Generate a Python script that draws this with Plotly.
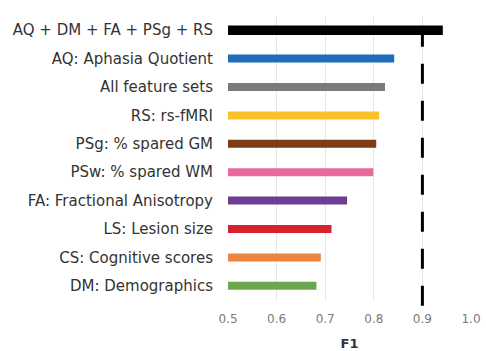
import plotly.graph_objects as go

# Feature sets, top to bottom, with their F1 scores
feature_sets = [
    "AQ + DM + FA + PSg + RS",
    "AQ: Aphasia Quotient",
    "All feature sets",
    "RS: rs-fMRI",
    "PSg: % spared GM",
    "PSw: % spared WM",
    "FA: Fractional Anisotropy",
    "LS: Lesion size",
    "CS: Cognitive scores",
    "DM: Demographics",
]
f1_scores = [0.942, 0.842, 0.823, 0.811, 0.805, 0.799, 0.745, 0.713, 0.691, 0.682]
bar_colors = [
    "#000000", "#1f6cb8", "#7a7a7a", "#fbc02d", "#7e3b14",
    "#e8689b", "#6b3d94", "#d9202e", "#ec8540", "#6aa84f",
]
bar_widths = [0.33, 0.28, 0.28, 0.28, 0.28, 0.28, 0.28, 0.28, 0.28, 0.28]

reference_f1 = 0.9
axis_ticks = [0.5, 0.6, 0.7, 0.8, 0.9, 1.0]
axis_tick_text = ["0.5", "0.6", "0.7", "0.8", "0.9", "1.0"]
x_range = [0.5, 1.0]

fig = go.Figure(
    go.Bar(
        x=[v - x_range[0] for v in f1_scores],
        base=x_range[0],
        y=feature_sets,
        orientation="h",
        marker=dict(color=bar_colors, line=dict(width=0)),
        width=bar_widths,
        hoverinfo="x+y",
    )
)

# Dashed reference line at F1 = 0.9
fig.add_shape(
    type="line",
    xref="x", yref="paper",
    x0=reference_f1, x1=reference_f1,
    y0=-0.02, y1=1.005,
    line=dict(color="#000000", width=3, dash="20px,17px"),
    layer="above",
)

fig.update_layout(
    width=486,
    height=351,
    margin=dict(l=228, r=15, t=16, b=51),
    plot_bgcolor="white",
    paper_bgcolor="white",
    showlegend=False,
    font=dict(family="DejaVu Sans, Arial, sans-serif"),
    xaxis=dict(
        range=x_range,
        tickvals=axis_ticks,
        ticktext=axis_tick_text,
        showgrid=True,
        gridcolor="#e6e6e6",
        gridwidth=1,
        zeroline=False,
        showline=False,
        automargin=False,
        tickfont=dict(size=12, color="#7a7a7a"),
        ticklabelstandoff=10,
        title=dict(
            text="<b>F1</b>",
            font=dict(size=13, color="#333333"),
            standoff=18,
        ),
    ),
    yaxis=dict(
        categoryorder="array",
        categoryarray=feature_sets[::-1],
        range=[-0.5, len(feature_sets) - 0.5],
        showgrid=False,
        zeroline=False,
        showline=False,
        automargin=False,
        tickfont=dict(size=15, color="#333333"),
        ticklabelstandoff=14,
    ),
)

fig.write_html("out.html")
